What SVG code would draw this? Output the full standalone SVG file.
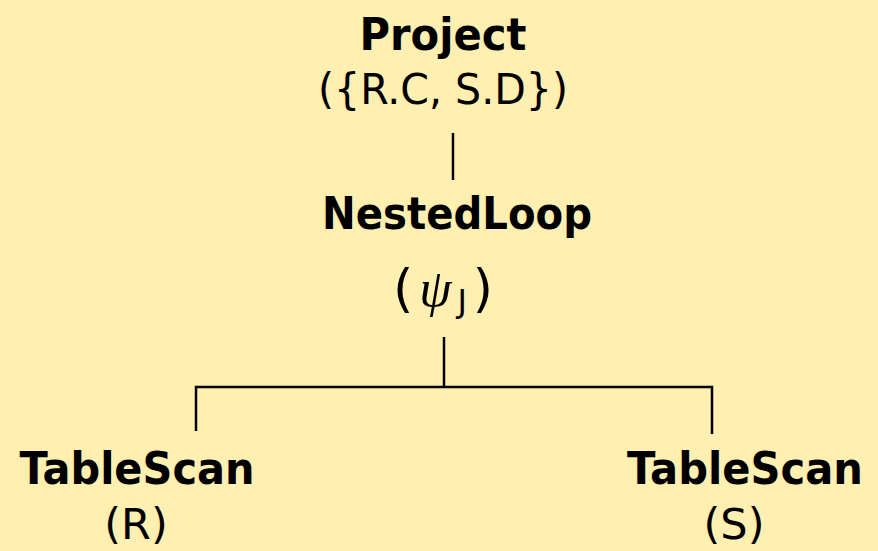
<svg xmlns="http://www.w3.org/2000/svg" width="878" height="551" viewBox="0 0 878 551">
  <style>
    .bg { fill: #FFEFB0; }
    .op { font-family: "DejaVu Sans", "Open Sans", sans-serif; font-weight: bold; font-size: 45px; fill: #000; text-anchor: middle; }
    .arg { font-family: "DejaVu Sans", "Open Sans", sans-serif; font-size: 43px; fill: #000; text-anchor: middle; }
    .psi { font-family: "DejaVu Sans", "Open Sans", sans-serif; font-size: 52px; fill: #000; text-anchor: middle; }
    .sub { font-size: 32px; }
    .edge { stroke: #000; stroke-width: 2.5; fill: none; }
  </style>
  <rect class="bg" x="0" y="0" width="878" height="551"/>

  <g id="connectors">
    <line class="edge" x1="453" y1="133" x2="453" y2="180"/>
    <line class="edge" x1="444" y1="337" x2="444" y2="387"/>
    <polyline class="edge" points="196,431 196,387 712,387 712,434"/>
  </g>

  <g id="project">
    <text class="op" x="443" y="50" textLength="167" lengthAdjust="spacingAndGlyphs">Project</text>
    <text class="arg" x="443" y="104" textLength="250" lengthAdjust="spacingAndGlyphs">({R.C, S.D})</text>
  </g>

  <g id="nestedloop">
    <text class="op" x="457" y="229" textLength="270" lengthAdjust="spacingAndGlyphs">NestedLoop</text>
    <text class="psi" x="443" y="306" textLength="100" lengthAdjust="spacing">(<tspan font-family="Liberation Serif, serif" font-style="italic">ψ</tspan><tspan class="sub" dy="6">J</tspan><tspan dy="-6">)</tspan></text>
  </g>

  <g id="scan-r">
    <text class="op" x="137" y="484" textLength="235" lengthAdjust="spacingAndGlyphs">TableScan</text>
    <text class="arg" x="136" y="539">(R)</text>
  </g>

  <g id="scan-s">
    <text class="op" x="745" y="484" textLength="236" lengthAdjust="spacingAndGlyphs">TableScan</text>
    <text class="arg" x="734" y="539">(S)</text>
  </g>
</svg>
